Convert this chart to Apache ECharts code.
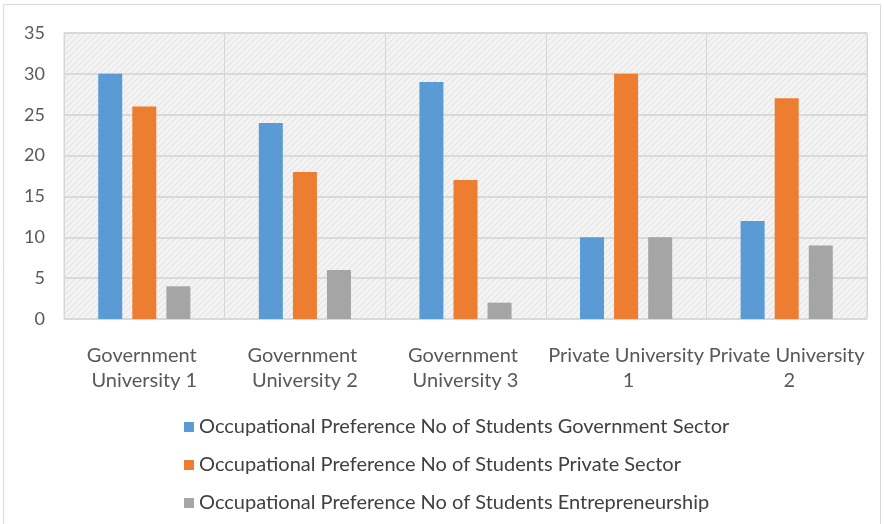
<!DOCTYPE html>
<html><head><meta charset="utf-8">
<script src="https://cdn.jsdelivr.net/npm/echarts@6/dist/echarts.min.js"></script>
<style>html,body{margin:0;padding:0;background:#fff}#c{width:884px;height:524px}</style>
</head><body><div id="c"></div>
<script>
const categories = ["Government University 1","Government University 2","Government University 3","Private University 1","Private University 2"];
const seriesNames = ["Occupational Preference No of Students Government Sector","Occupational Preference No of Students Private Sector","Occupational Preference No of Students Entrepreneurship"];
const govSector = [30, 24, 29, 10, 12];
const privSector = [26, 18, 17, 30, 27];
const entrepreneurship = [4, 6, 2, 10, 9];
const colors = ["#5b9bd5","#ed7d31","#a5a5a5"];

const pc = document.createElement('canvas');
pc.width = 6; pc.height = 6;
const g = pc.getContext('2d');
g.fillStyle = '#f3f3f3'; g.fillRect(0,0,6,6);
g.strokeStyle = '#e0e0e0'; g.lineWidth = 1;
g.beginPath(); g.moveTo(0,6); g.lineTo(6,0); g.stroke();
g.beginPath(); g.moveTo(-1,1); g.lineTo(1,-1); g.stroke();
g.beginPath(); g.moveTo(5,7); g.lineTo(7,5); g.stroke();

const font = "Lato, 'Open Sans', sans-serif";
const chart = echarts.init(document.getElementById('c'));
chart.setOption({
  animation: false,
  textStyle: {fontFamily: font},
  graphic: [{type:'rect', shape:{x:3.5,y:4.5,width:877,height:530}, style:{fill:'none', stroke:'#d9d9d9', lineWidth:1}, silent:true}],
  grid: {left:64, right:17, top:33, bottom:205, show:true, backgroundColor:{image:pc, repeat:'repeat'}, borderColor:'#d6d6d6', borderWidth:1},
  legend: {
    orient:'vertical', left:179, top:412, itemWidth:10, itemHeight:10, itemGap:18,
    icon:'rect',
    textStyle:{fontSize:20, color:'#404040', padding:[14,0,0,0], fontFamily:font},
    data: seriesNames
  },
  xAxis: {
    type:'category', data:categories,
    axisLine:{show:false}, axisTick:{show:false},
    splitLine:{show:true, lineStyle:{color:'#d6d6d6', width:1}},
    axisLabel:{color:'#595959', fontSize:20, lineHeight:25, margin:24, interval:0,
      width:162, overflow:'break'}
  },
  yAxis: {
    type:'value', min:0, max:35, interval:5,
    axisLine:{show:false}, axisTick:{show:false},
    splitLine:{lineStyle:{color:'#d9d9d9', width:2}},
    axisLabel:{color:'#595959', fontSize:18, margin:19, padding:[14,0,0,0]}
  },
  series: [
    {name:seriesNames[0], type:'bar', data:govSector, itemStyle:{color:colors[0]}, barWidth:24, barGap:'42%'},
    {name:seriesNames[1], type:'bar', data:privSector, itemStyle:{color:colors[1]}, barWidth:24, barGap:'42%'},
    {name:seriesNames[2], type:'bar', data:entrepreneurship, itemStyle:{color:colors[2]}, barWidth:24, barGap:'42%'}
  ]
});
</script></body></html>
